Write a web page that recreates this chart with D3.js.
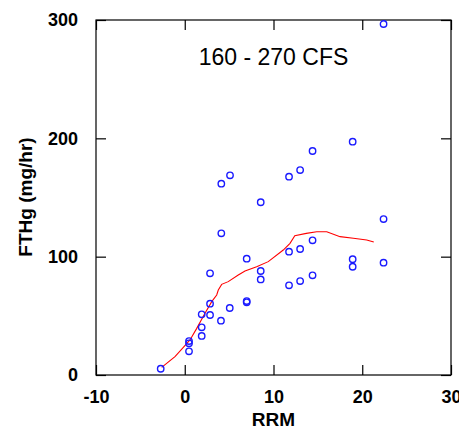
<!DOCTYPE html>
<html>
<head>
<meta charset="utf-8">
<script src="https://cdn.jsdelivr.net/npm/d3@7"></script>
<style>
  body { margin: 0; background: #fff; }
  svg text { font-family: "Liberation Sans", Arial, sans-serif; }
</style>
</head>
<body>
<svg id="chart" width="459" height="430"></svg>
<script>
// observed samples (RRM vs FTHg)
const obsX = [-2.71, 0.48, 0.48, 0.48, 1.91, 1.91, 1.91, 2.85, 2.85, 2.85, 4.08, 4.12, 4.12,
              5.07, 5.1, 6.98, 6.98, 6.98, 8.56, 8.56, 8.56, 11.75, 11.75, 11.75, 13.0, 13.0, 13.0,
              14.4, 14.4, 14.4, 18.92, 18.92, 18.92, 22.4, 22.4, 22.4];
const obsY = [5.3, 28.7, 26.8, 20, 51.3, 40.3, 33, 85.9, 60.3, 50.7, 45.9, 161.7, 119.7,
              56.6, 168.7, 98.3, 62.5, 61.4, 146, 87.9, 80.8, 167.6, 104.2, 75.8, 173.2, 106.5, 79.4,
              189.3, 113.8, 84.2, 197.2, 97.8, 91.5, 296.6, 131.8, 94.9];

// smoothed fit (red)
const fitX = [-2.6, -1.1, -0.16, 0.59, 1.35, 2.28, 3.04, 3.6, 3.78, 4.16, 4.9, 6.03, 6.79, 8.1, 9.41,
              11.1, 11.86, 12.4, 13.7, 14.87, 16.0, 17.5, 19.0, 20.5, 21.3];
const fitY = [6.4, 15.5, 23.3, 29.6, 39.4, 52.1, 62, 67.6, 71.8, 76.6, 78.9, 84.5, 87.9, 91.5, 95.8,
              105.6, 111.3, 117.7, 119.7, 121.1, 121.1, 116.9, 115.5, 114.1, 112.4];

const xTicks = [-10, 0, 10, 20, 30];
const yTicks = [0, 100, 200, 300];
const title = "160 - 270 CFS";

const margin = { top: 20, right: 8, bottom: 55, left: 96 };
const W = 459, H = 430;
const w = W - margin.left - margin.right;
const h = H - margin.top - margin.bottom;

const svg = d3.select("#chart");
const g = svg.append("g").attr("transform", `translate(${margin.left},${margin.top})`);

const x = d3.scaleLinear().domain([-10, 30]).range([0, w]);
const y = d3.scaleLinear().domain([0, 300]).range([h, 0]);

// frame
g.append("rect")
  .attr("width", w).attr("height", h)
  .attr("fill", "none").attr("stroke", "#000").attr("stroke-width", 1.2);

const labelFont = (sel) => sel.selectAll("text")
  .attr("font-size", 18).attr("font-weight", "bold").attr("fill", "#000");

// bottom axis, ticks inward
const xb = g.append("g").attr("transform", `translate(0,${h})`)
  .call(d3.axisBottom(x).tickValues(xTicks).tickSizeInner(-10).tickSizeOuter(0).tickPadding(15)
    .tickFormat(d => String(d)));
labelFont(xb);
// top mirrored ticks
g.append("g")
  .call(d3.axisTop(x).tickValues(xTicks).tickSizeInner(-10).tickSizeOuter(0).tickFormat(""));

const yl = g.append("g")
  .call(d3.axisLeft(y).tickValues(yTicks).tickSizeInner(-10).tickSizeOuter(0).tickPadding(18));
labelFont(yl);
g.append("g").attr("transform", `translate(${w},0)`)
  .call(d3.axisRight(y).tickValues(yTicks).tickSizeInner(-10).tickSizeOuter(0).tickFormat(""));

g.selectAll(".domain").remove();
g.selectAll(".tick line").attr("stroke", "#000").attr("stroke-width", 1.2);

// fit line
const pts = fitX.map((v, i) => [v, fitY[i]]);
g.append("path")
  .datum(pts)
  .attr("fill", "none").attr("stroke", "#ff0000").attr("stroke-width", 1.1)
  .attr("d", d3.line().x(d => x(d[0])).y(d => y(d[1])));

// observations
g.selectAll("circle.obs")
  .data(obsX.map((v, i) => ({ x: v, y: obsY[i] })))
  .join("circle")
  .attr("class", "obs")
  .attr("cx", d => x(d.x)).attr("cy", d => y(d.y))
  .attr("r", 3.2)
  .attr("fill", "none").attr("stroke", "#1a1aff").attr("stroke-width", 1.4);

// title
g.append("text")
  .attr("x", x(10)).attr("y", 45)
  .attr("text-anchor", "middle")
  .attr("font-size", 23)
  .text(title);

// axis titles
svg.append("text")
  .attr("x", margin.left + x(10)).attr("y", 426)
  .attr("text-anchor", "middle")
  .attr("font-size", 19).attr("font-weight", "bold")
  .text("RRM");

svg.append("text")
  .attr("transform", "translate(32,197) rotate(-90)")
  .attr("text-anchor", "middle")
  .attr("font-size", 19).attr("font-weight", "bold")
  .text("FTHg (mg/hr)");
</script>
</body>
</html>
